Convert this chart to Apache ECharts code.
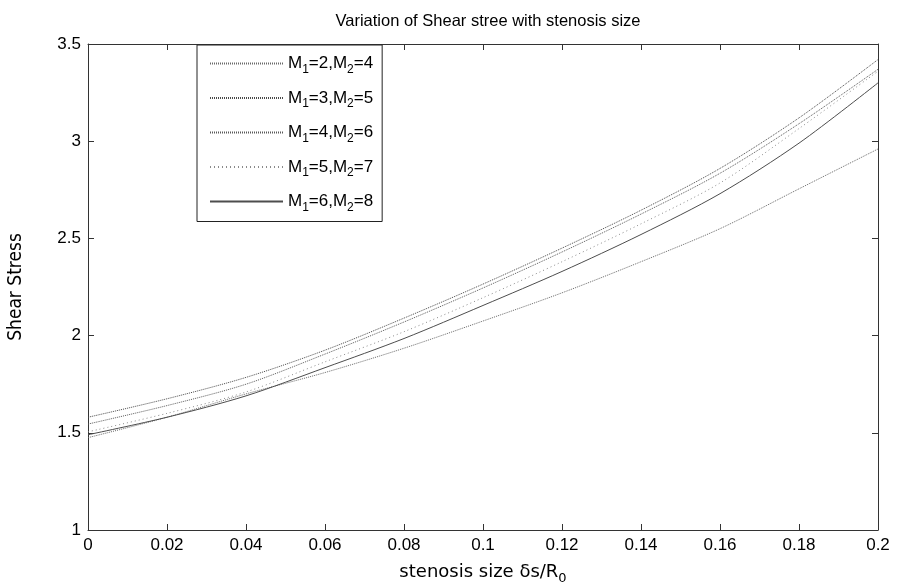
<!DOCTYPE html>
<html>
<head>
<meta charset="utf-8">
<script src="https://cdn.jsdelivr.net/npm/echarts@6/dist/echarts.min.js"></script>
<style>
  html, body { margin: 0; padding: 0; background: #fff; }
  #chart { width: 899px; height: 585px; }
</style>
</head>
<body>
<div id="chart"></div>
<script>
// stenosis size δs/R0
const xs = [0, 0.02, 0.04, 0.06, 0.08, 0.10, 0.12, 0.14, 0.16, 0.18, 0.20];

// shear stress
const m2 = [1.475, 1.58, 1.70, 1.81, 1.935, 2.075, 2.22, 2.38, 2.55, 2.755, 2.96];
const m3 = [1.58, 1.675, 1.785, 1.925, 2.09, 2.265, 2.45, 2.645, 2.86, 3.12, 3.42];
const m4 = [1.545, 1.64, 1.75, 1.905, 2.07, 2.245, 2.43, 2.625, 2.835, 3.09, 3.37];
const m5 = [1.505, 1.60, 1.71, 1.865, 2.02, 2.195, 2.38, 2.575, 2.785, 3.065, 3.36];
const m6 = [1.49, 1.58, 1.69, 1.835, 1.985, 2.155, 2.33, 2.52, 2.73, 2.99, 3.30];

const names = ['M1=2,M2=4', 'M1=3,M2=5', 'M1=4,M2=6', 'M1=5,M2=7', 'M1=6,M2=8'];
const subLabels = [['2', '4'], ['3', '5'], ['4', '6'], ['5', '7'], ['6', '8']];

const font = '"Liberation Sans", Arial, Helvetica, sans-serif';

const pairs = (ys) => xs.map((x, i) => [x, ys[i]]);

const styles = [
  { color: '#6a6a6a', type: [1, 1] },
  { color: '#4a4a4a', type: [1, 1] },
  { color: '#5a5a5a', type: [1, 1] },
  { color: '#8a8a8a', type: [1, 3] },
  { color: '#4d4d4d', type: 'solid' }
];

const seriesData = [m2, m3, m4, m5, m6];

const chart = echarts.init(document.getElementById('chart'), null, { renderer: 'canvas' });

const series = seriesData.map((ys, i) => ({
  name: names[i],
  type: 'line',
  xAxisIndex: 0,
  yAxisIndex: 0,
  data: pairs(ys),
  symbol: 'none',
  smooth: 0.3,
  lineStyle: { width: 1, color: styles[i].color, type: styles[i].type },
  itemStyle: { color: styles[i].color },
  emphasis: { disabled: true },
  animation: false
}));

const subRich = {
  n: { fontFamily: font, fontSize: 17, color: '#000' },
  s: { fontFamily: font, fontSize: 12, color: '#000', padding: [12, 0, 0, 0] }
};

const option = {
  backgroundColor: '#fff',
  animation: false,
  title: {
    text: 'Variation of Shear stree with stenosis size',
    left: 483,
    textAlign: 'center',
    top: 8,
    textStyle: { fontFamily: font, fontSize: 16.5, fontWeight: 'normal', color: '#000' }
  },
  grid: { left: 88, right: 21, top: 44, bottom: 55, containLabel: false, outerBoundsMode: 'none' },
  legend: {
    orient: 'vertical',
    left: 197,
    top: 45,
    padding: [10, 9, 8, 12],
    itemGap: 14,
    itemWidth: 73,
    itemHeight: 10,
    backgroundColor: '#fff',
    borderColor: '#222',
    borderWidth: 1,
    borderRadius: 0,
    itemStyle: { opacity: 0 },
    data: names,
    formatter: (name) => {
      const i = names.indexOf(name);
      return '{n|M}{s|1}{n|=' + subLabels[i][0] + ',M}{s|2}{n|=' + subLabels[i][1] + '}';
    },
    textStyle: { fontFamily: font, fontSize: 17, color: '#000', rich: subRich }
  },
  xAxis: [
    {
      type: 'value',
      position: 'bottom',
      min: 0,
      max: 0.2,
      interval: 0.02,
      name: '{n|stenosis size δs/R}{s|0}',
      nameLocation: 'middle',
      nameGap: 30,
      nameTextStyle: {
        fontFamily: font,
        fontSize: 18,
        color: '#000',
        rich: {
          n: { fontFamily: '"DejaVu Sans", ' + font, fontSize: 18, color: '#000' },
          s: { fontFamily: '"DejaVu Sans", ' + font, fontSize: 13, color: '#000', padding: [12, 0, 0, 0] }
        }
      },
      axisLine: { show: true, onZero: false, lineStyle: { color: '#333', width: 1 } },
      axisTick: { show: true, inside: true, length: 6, lineStyle: { color: '#333' } },
      axisLabel: { fontFamily: font, fontSize: 17, color: '#000', margin: 7 },
      splitLine: { show: false }
    },
    {
      type: 'value',
      position: 'top',
      min: 0,
      max: 0.2,
      interval: 0.02,
      axisLine: { show: true, onZero: false, lineStyle: { color: '#333', width: 1 } },
      axisTick: { show: true, inside: true, length: 6, lineStyle: { color: '#333' } },
      axisLabel: { show: false },
      splitLine: { show: false }
    }
  ],
  yAxis: [
    {
      type: 'value',
      position: 'left',
      min: 1,
      max: 3.5,
      interval: 0.5,
      name: 'Shear Stress',
      nameLocation: 'middle',
      nameGap: 62,
      nameRotate: 90,
      nameTextStyle: { fontFamily: '"Liberation Sans Narrow", "DejaVu Sans Condensed", ' + font, fontSize: 19, color: '#000' },
      axisLine: { show: true, onZero: false, lineStyle: { color: '#333', width: 1 } },
      axisTick: { show: true, inside: true, length: 6, lineStyle: { color: '#333' } },
      axisLabel: { fontFamily: font, fontSize: 17, color: '#000', margin: 7 },
      splitLine: { show: false }
    },
    {
      type: 'value',
      position: 'right',
      min: 1,
      max: 3.5,
      interval: 0.5,
      axisLine: { show: true, onZero: false, lineStyle: { color: '#333', width: 1 } },
      axisTick: { show: true, inside: true, length: 6, lineStyle: { color: '#333' } },
      axisLabel: { show: false },
      splitLine: { show: false }
    }
  ],
  series: series
};

chart.setOption(option);
</script>
</body>
</html>
